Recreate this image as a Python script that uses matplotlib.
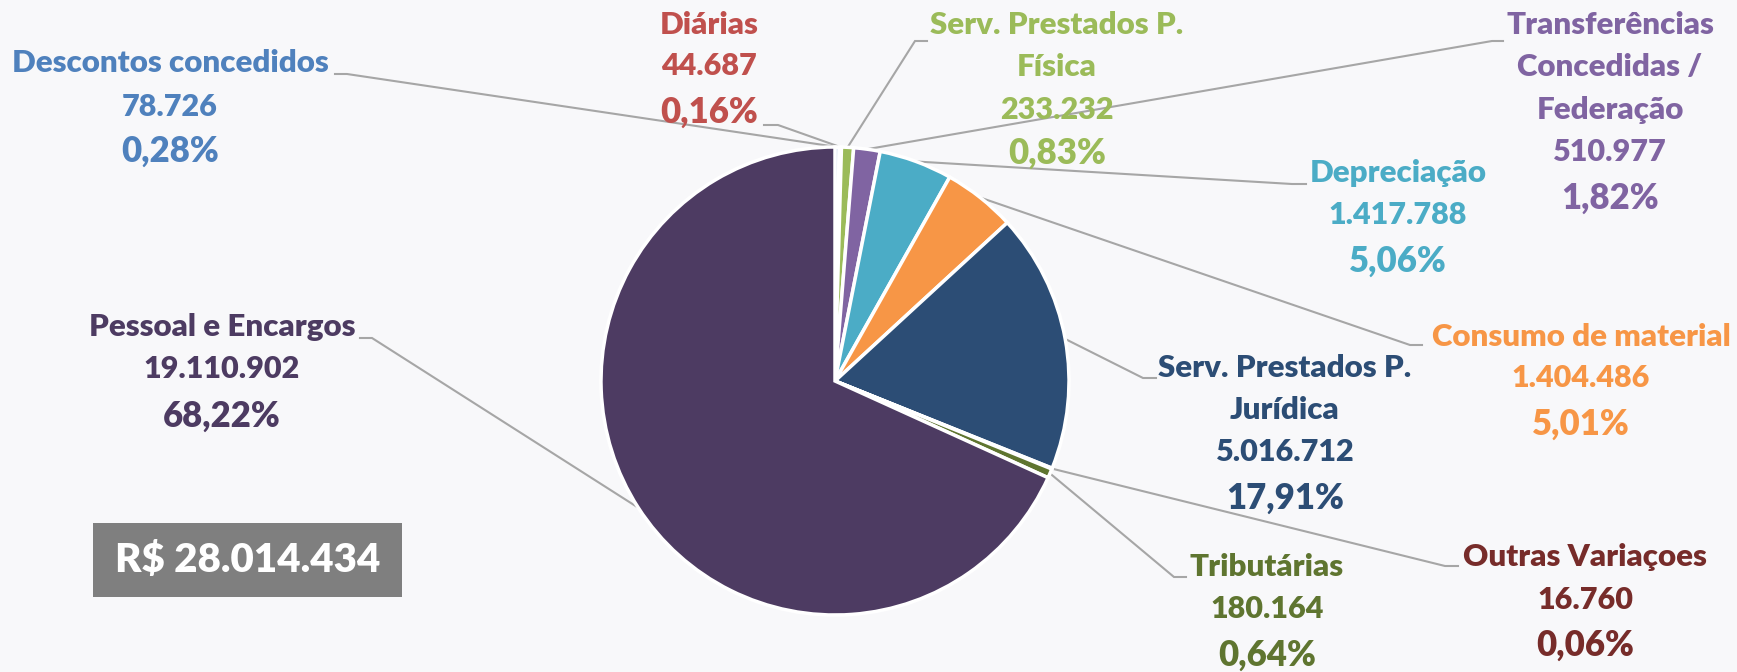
import matplotlib
matplotlib.use("Agg")
import matplotlib.pyplot as plt
import numpy as np
from matplotlib.patches import Rectangle

# ---- data (clockwise from 12 o'clock) ----
names = ["Descontos concedidos", "Diárias", "Serv. Prestados P.\nFísica",
         "Transferências\nConcedidas /\nFederação", "Depreciação",
         "Consumo de material", "Serv. Prestados P.\nJurídica",
         "Outras Variaçoes", "Tributárias", "Pessoal e Encargos"]
values = [78726, 44687, 233232, 510977, 1417788, 1404486, 5016712, 16760, 180164, 19110902]
value_labels = ["78.726", "44.687", "233.232", "510.977", "1.417.788", "1.404.486",
                "5.016.712", "16.760", "180.164", "19.110.902"]
pct_labels = ["0,28%", "0,16%", "0,83%", "1,82%", "5,06%", "5,01%",
              "17,91%", "0,06%", "0,64%", "68,22%"]
total_label = "R$ 28.014.434"
colors = ["#4f81bd", "#c0504d", "#9bbb59", "#8064a2", "#4bacc6", "#f79646",
          "#2c4d75", "#772c2a", "#5f7530", "#4d3b62"]
text_colors = ["#4f81bd", "#c0504d", "#9bbb59", "#8064a2", "#4bacc6", "#f79646",
               "#2c4d75", "#772c2a", "#5f7530", "#4d3b62"]

W, H = 1737, 672
BG = "#f8f8fa"
fig = plt.figure(figsize=(W / 100, H / 100), dpi=100, facecolor=BG)
ax = fig.add_axes([0, 0, 1, 1])
ax.set_facecolor(BG)

cx, cy, R = 835, H - 381, 234
ax.pie(values, colors=colors, startangle=90, counterclock=False,
       center=(cx, cy), radius=R,
       wedgeprops=dict(edgecolor="white", linewidth=2.5))
ax.set_xlim(0, W)
ax.set_ylim(0, H)
ax.set_aspect("auto")
ax.axis("off")

label_pos = [
    (170, [63, 107, 151]),
    (709, [25, 66, 112]),
    (1057, [25, 67, 110, 153]),
    (1610, [25, 67, 110, 152, 198]),
    (1398, [173, 215, 261]),
    (1581, [337, 378, 424]),
    (1285, [368, 410, 452, 498]),
    (1585, [557, 600, 645]),
    (1267, [567, 609, 655]),
    (222, [327, 369, 416]),
]
leader = [
    ((335, 74), (347, 74)),
    ((764, 125), (778, 125)),
    ((927, 41), (915, 41)),
    ((1503, 41), (1492, 41)),
    ((1306, 184), (1292, 184)),
    ((1422, 345), (1410, 345)),
    ((1156, 378), (1143, 378)),
    ((1458, 566), (1445, 566)),
    ((1186, 577), (1174, 577)),
    ((360, 338), (372, 338)),
]

FONT = "Lato"
WEIGHT = "heavy"
name_fs, val_fs, pct_fs = 22.5, 22, 25

vals = np.array(values, dtype=float)
frac = vals / vals.sum()
cum = np.cumsum(frac)
mids = cum - frac / 2

for i in range(len(values)):
    x, ys = label_pos[i]
    lines = names[i].split("\n")
    for j, ln in enumerate(lines):
        ax.text(x, H - ys[j], ln, ha="center", va="center", color=text_colors[i],
                fontsize=name_fs, fontweight=WEIGHT, family=FONT)
    ax.text(x, H - ys[len(lines)], value_labels[i], ha="center", va="center",
            color=text_colors[i], fontsize=val_fs, fontweight=WEIGHT, family=FONT)
    ax.text(x, H - ys[len(lines) + 1], pct_labels[i], ha="center", va="center",
            color=text_colors[i], fontsize=pct_fs, fontweight=WEIGHT, family=FONT)
    th = np.deg2rad(90 - 360 * mids[i])
    ex, ey = cx + R * np.cos(th), cy + R * np.sin(th)
    (sx, sy), (bx, by) = leader[i]
    ax.plot([sx, bx, ex], [H - sy, H - by, ey], color="#a6a6a6", lw=1.5,
            solid_joinstyle="miter", zorder=0.5)

ax.add_patch(Rectangle((93, H - 597), 309, 74, facecolor="#7f7f7f", edgecolor="none"))
ax.text(93 + 309 / 2, H - 560, total_label, ha="center", va="center", color="white",
        fontsize=29, fontweight=WEIGHT, family=FONT)

fig.savefig("out.png", dpi=100, facecolor=BG)
